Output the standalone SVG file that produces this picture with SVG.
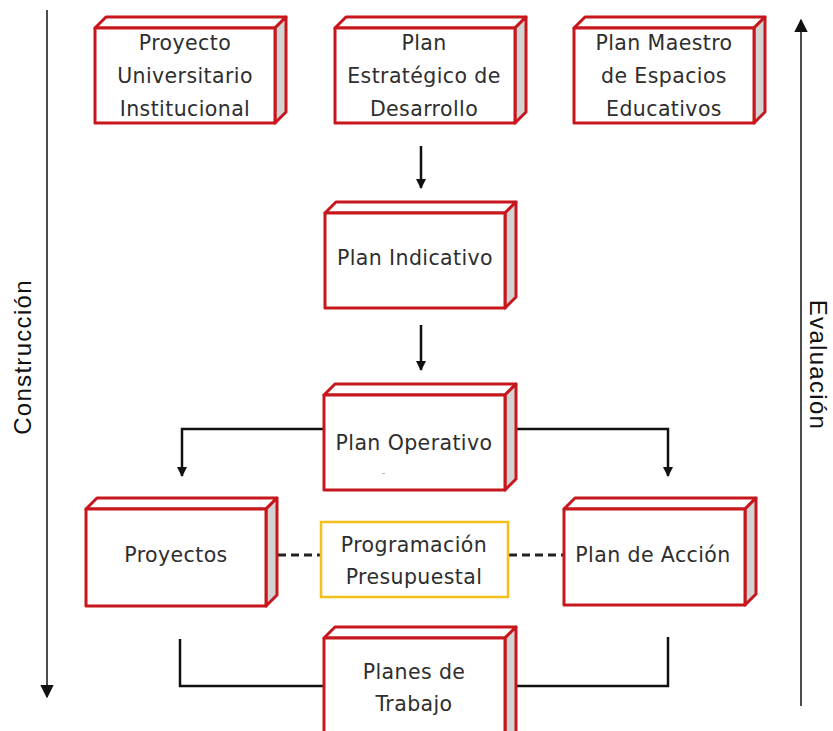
<svg xmlns="http://www.w3.org/2000/svg" width="833" height="731" viewBox="0 0 833 731">
<defs>
<style>
.f{fill:#fff;stroke:#c8161d;stroke-width:3;stroke-linejoin:round}
.s{fill:#d3d3d3;stroke:#c8161d;stroke-width:3;stroke-linejoin:round}
.t{font-family:"DejaVu Sans","Open Sans",sans-serif;font-size:20.5px;letter-spacing:0.4px;fill:#2e2e2e;text-anchor:middle;dominant-baseline:central}
.c{fill:none;stroke:#111;stroke-width:2.5}
.d{fill:none;stroke:#222;stroke-width:3;stroke-dasharray:8 5}
.ax{fill:none;stroke:#111;stroke-width:1.5}
.lab{font-family:"Liberation Sans",Arial,sans-serif;font-size:24px;letter-spacing:1.3px;fill:#111;text-anchor:middle;dominant-baseline:central}
</style>
<marker id="ah" viewBox="0 0 10 10" refX="9" refY="5" markerWidth="4" markerHeight="4" orient="auto-start-reverse" markerUnits="strokeWidth"><path d="M0,0L10,5L0,10z" fill="#111"/></marker>
<marker id="ah2" viewBox="0 0 10 10" refX="9" refY="5" markerWidth="9" markerHeight="9" orient="auto" markerUnits="strokeWidth"><path d="M0,0L10,5L0,10z" fill="#111"/></marker>
</defs>
<g id="connectors">
<line class="c" x1="421" y1="146" x2="421" y2="188" marker-end="url(#ah)"/>
<line class="c" x1="421" y1="325" x2="421" y2="370" marker-end="url(#ah)"/>
<polyline class="c" points="324,429 182,429 182,476" marker-end="url(#ah)"/>
<polyline class="c" points="505,429 668,429 668,476" marker-end="url(#ah)"/>
<line class="d" x1="278" y1="555" x2="320" y2="555"/>
<line class="d" x1="509" y1="555" x2="563" y2="555"/>
<polyline class="c" points="180,639 180,686 324,686"/>
<polyline class="c" points="505,686 668,686 668,637"/>
<line class="ax" x1="47" y1="10" x2="47" y2="697" marker-end="url(#ah2)"/>
<line class="ax" x1="801" y1="706" x2="801" y2="20" marker-end="url(#ah2)"/>
</g>
<g id="n1">
<polygon class="f" points="95,28 106,17 286,17 275,28"/><polygon class="s" points="275,28 286,17 286,112 275,123"/><rect class="f" x="95" y="28" width="180" height="95"/>
<text class="t" x="185" y="43">Proyecto</text><text class="t" x="185" y="76">Universitario</text><text class="t" x="185" y="109">Institucional</text>
</g>
<g id="n2">
<polygon class="f" points="335,28 346,17 526,17 515,28"/><polygon class="s" points="515,28 526,17 526,112 515,123"/><rect class="f" x="335" y="28" width="180" height="95"/>
<text class="t" x="424" y="43">Plan</text><text class="t" x="424" y="76">Estratégico de</text><text class="t" x="424" y="109">Desarrollo</text>
</g>
<g id="n3">
<polygon class="f" points="574,28 585,17 765,17 754,28"/><polygon class="s" points="754,28 765,17 765,112 754,123"/><rect class="f" x="574" y="28" width="180" height="95"/>
<text class="t" x="664" y="43">Plan Maestro</text><text class="t" x="664" y="76">de Espacios</text><text class="t" x="664" y="109">Educativos</text>
</g>
<g id="n4">
<polygon class="f" points="325,213 336,202 516,202 505,213"/><polygon class="s" points="505,213 516,202 516,297 505,308"/><rect class="f" x="325" y="213" width="180" height="95"/>
<text class="t" x="415" y="258">Plan Indicativo</text>
</g>
<g id="n5">
<polygon class="f" points="324,395 335,384 516,384 505,395"/><polygon class="s" points="505,395 516,384 516,479 505,490"/><rect class="f" x="324" y="395" width="181" height="95"/>
<text class="t" x="414" y="443">Plan Operativo</text>
<text x="382" y="476" style="font-family:'Open Sans',sans-serif;font-size:10px;fill:#999">-</text>
</g>
<g id="n6">
<polygon class="f" points="86,509 97,498 277,498 266,509"/><polygon class="s" points="266,509 277,498 277,595 266,606"/><rect class="f" x="86" y="509" width="180" height="97"/>
<text class="t" x="176" y="555">Proyectos</text>
</g>
<g id="n7">
<rect x="321" y="522" width="187" height="75" fill="#fff" stroke="#f5c01a" stroke-width="2.5"/>
<text class="t" x="414" y="545">Programación</text><text class="t" x="414" y="577">Presupuestal</text>
</g>
<g id="n8">
<polygon class="f" points="564,509 575,498 756,498 745,509"/><polygon class="s" points="745,509 756,498 756,594 745,605"/><rect class="f" x="564" y="509" width="181" height="96"/>
<text class="t" x="653" y="555">Plan de Acción</text>
</g>
<g id="n9">
<polygon class="f" points="324,638 335,627 516,627 505,638"/><polygon class="s" points="505,638 516,627 516,735 505,745"/><rect class="f" x="324" y="638" width="181" height="105"/>
<text class="t" x="414" y="672">Planes de</text><text class="t" x="414" y="704">Trabajo</text>
</g>
<text class="lab" transform="translate(22,357) rotate(-90)">Construcción</text>
<text class="lab" transform="translate(818,365) rotate(90)">Evaluación</text>
</svg>
